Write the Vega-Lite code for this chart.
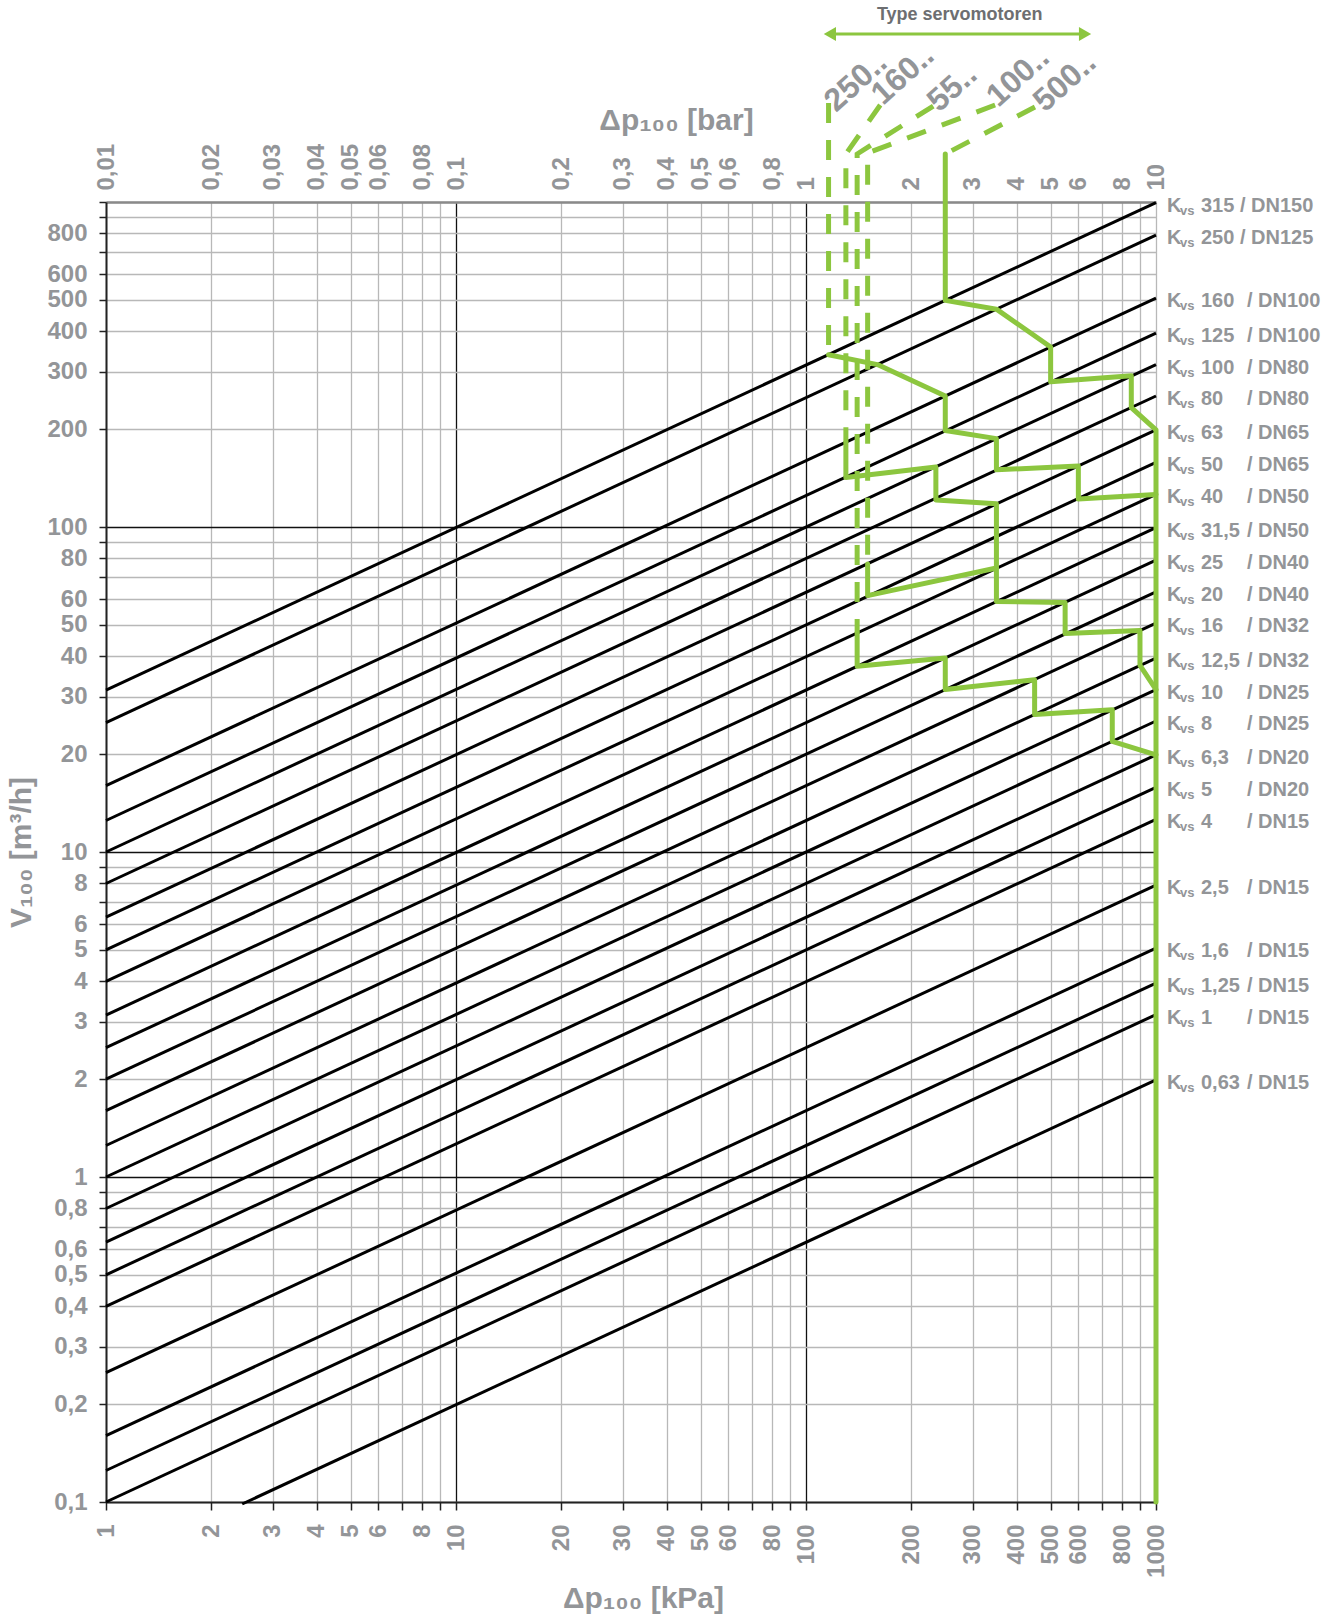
{
  "$schema": "https://vega.github.io/schema/vega-lite/v6.json",
  "width": 1050,
  "height": 1300,
  "autosize": {"type": "none"},
  "padding": {"left": 106, "top": 202, "right": 183, "bottom": 118},
  "background": "white",
  "config": {
    "view": {"stroke": null},
    "locale": {"number": {"decimal": ",", "thousands": "", "grouping": [3], "currency": ["", ""]}},
    "axis": {
      "labelFont": "Liberation Sans",
      "labelFontWeight": "bold",
      "labelFontSize": 24,
      "labelColor": "#939598",
      "titleFont": "Liberation Sans",
      "titleFontWeight": "bold",
      "titleFontSize": 30,
      "titleColor": "#939598",
      "labelOverlap": false,
      "labelBound": false,
      "labelFlush": false
    }
  },
  "datasets": {
    "kvs": [
      {"kvs": 315, "dp0": 1, "v0": 31.5, "dp1": 1000, "v1": 996, "num": "315 / DN150", "dn": ""},
      {"kvs": 250, "dp0": 1, "v0": 25, "dp1": 1000, "v1": 791, "num": "250 / DN125", "dn": ""},
      {"kvs": 160, "dp0": 1, "v0": 16, "dp1": 1000, "v1": 506, "num": "160", "dn": "/ DN100"},
      {"kvs": 125, "dp0": 1, "v0": 12.5, "dp1": 1000, "v1": 395, "num": "125", "dn": "/ DN100"},
      {"kvs": 100, "dp0": 1, "v0": 10, "dp1": 1000, "v1": 316, "num": "100", "dn": "/ DN80"},
      {"kvs": 80, "dp0": 1, "v0": 8, "dp1": 1000, "v1": 253, "num": "80", "dn": "/ DN80"},
      {"kvs": 63, "dp0": 1, "v0": 6.3, "dp1": 1000, "v1": 199, "num": "63", "dn": "/ DN65"},
      {"kvs": 50, "dp0": 1, "v0": 5, "dp1": 1000, "v1": 158, "num": "50", "dn": "/ DN65"},
      {"kvs": 40, "dp0": 1, "v0": 4, "dp1": 1000, "v1": 126, "num": "40", "dn": "/ DN50"},
      {"kvs": 31.5, "dp0": 1, "v0": 3.15, "dp1": 1000, "v1": 99.6, "num": "31,5", "dn": "/ DN50"},
      {"kvs": 25, "dp0": 1, "v0": 2.5, "dp1": 1000, "v1": 79.1, "num": "25", "dn": "/ DN40"},
      {"kvs": 20, "dp0": 1, "v0": 2, "dp1": 1000, "v1": 63.2, "num": "20", "dn": "/ DN40"},
      {"kvs": 16, "dp0": 1, "v0": 1.6, "dp1": 1000, "v1": 50.6, "num": "16", "dn": "/ DN32"},
      {"kvs": 12.5, "dp0": 1, "v0": 1.25, "dp1": 1000, "v1": 39.5, "num": "12,5", "dn": "/ DN32"},
      {"kvs": 10, "dp0": 1, "v0": 1, "dp1": 1000, "v1": 31.6, "num": "10", "dn": "/ DN25"},
      {"kvs": 8, "dp0": 1, "v0": 0.8, "dp1": 1000, "v1": 25.3, "num": "8", "dn": "/ DN25"},
      {"kvs": 6.3, "dp0": 1, "v0": 0.63, "dp1": 1000, "v1": 19.9, "num": "6,3", "dn": "/ DN20"},
      {"kvs": 5, "dp0": 1, "v0": 0.5, "dp1": 1000, "v1": 15.8, "num": "5", "dn": "/ DN20"},
      {"kvs": 4, "dp0": 1, "v0": 0.4, "dp1": 1000, "v1": 12.6, "num": "4", "dn": "/ DN15"},
      {"kvs": 2.5, "dp0": 1, "v0": 0.25, "dp1": 1000, "v1": 7.91, "num": "2,5", "dn": "/ DN15"},
      {"kvs": 1.6, "dp0": 1, "v0": 0.16, "dp1": 1000, "v1": 5.06, "num": "1,6", "dn": "/ DN15"},
      {"kvs": 1.25, "dp0": 1, "v0": 0.125, "dp1": 1000, "v1": 3.95, "num": "1,25", "dn": "/ DN15"},
      {"kvs": 1, "dp0": 1, "v0": 0.1, "dp1": 1000, "v1": 3.16, "num": "1", "dn": "/ DN15"},
      {"kvs": 0.63, "dp0": 2.45, "v0": 0.0986, "dp1": 1000, "v1": 1.99, "num": "0,63", "dn": "/ DN15"}
    ],
    "green_dashed": [
      {"path": "250", "seq": 1, "dp": 116, "v": 2016},
      {"path": "250", "seq": 2, "dp": 116, "v": 339},
      {"path": "160", "seq": 1, "dp": 163, "v": 1988},
      {"path": "160", "seq": 2, "dp": 130, "v": 1405},
      {"path": "160", "seq": 3, "dp": 130, "v": 182},
      {"path": "55", "seq": 1, "dp": 231, "v": 1974},
      {"path": "55", "seq": 2, "dp": 140, "v": 1405},
      {"path": "55", "seq": 3, "dp": 140, "v": 47.3},
      {"path": "100", "seq": 1, "dp": 347, "v": 1988},
      {"path": "100", "seq": 2, "dp": 150, "v": 1415},
      {"path": "100", "seq": 3, "dp": 150, "v": 77},
      {"path": "500", "seq": 1, "dp": 451, "v": 1960},
      {"path": "500", "seq": 2, "dp": 250, "v": 1405}
    ],
    "green_solid": [
      {"path": "500", "seq": 1, "dp": 250, "v": 1405},
      {"path": "500", "seq": 2, "dp": 250, "v": 498},
      {"path": "500", "seq": 3, "dp": 350, "v": 468},
      {"path": "500", "seq": 4, "dp": 500, "v": 358},
      {"path": "500", "seq": 5, "dp": 500, "v": 280},
      {"path": "500", "seq": 6, "dp": 850, "v": 292},
      {"path": "500", "seq": 7, "dp": 850, "v": 233},
      {"path": "500", "seq": 8, "dp": 1000, "v": 199},
      {"path": "500", "seq": 9, "dp": 1000, "v": 0.1},
      {"path": "250", "seq": 1, "dp": 116, "v": 339},
      {"path": "250", "seq": 2, "dp": 160, "v": 316},
      {"path": "250", "seq": 3, "dp": 250, "v": 253},
      {"path": "250", "seq": 4, "dp": 250, "v": 198},
      {"path": "250", "seq": 5, "dp": 350, "v": 187},
      {"path": "250", "seq": 6, "dp": 350, "v": 150},
      {"path": "250", "seq": 7, "dp": 600, "v": 154},
      {"path": "250", "seq": 8, "dp": 600, "v": 122},
      {"path": "250", "seq": 9, "dp": 1000, "v": 126},
      {"path": "160", "seq": 1, "dp": 130, "v": 182},
      {"path": "160", "seq": 2, "dp": 130, "v": 142},
      {"path": "160", "seq": 3, "dp": 235, "v": 153},
      {"path": "160", "seq": 4, "dp": 235, "v": 121},
      {"path": "160", "seq": 5, "dp": 350, "v": 118},
      {"path": "160", "seq": 6, "dp": 350, "v": 59},
      {"path": "160", "seq": 7, "dp": 550, "v": 58.6},
      {"path": "160", "seq": 8, "dp": 550, "v": 47},
      {"path": "160", "seq": 9, "dp": 900, "v": 48},
      {"path": "160", "seq": 10, "dp": 900, "v": 37.5},
      {"path": "160", "seq": 11, "dp": 1000, "v": 31.6},
      {"path": "100", "seq": 1, "dp": 150, "v": 77},
      {"path": "100", "seq": 2, "dp": 150, "v": 61.5},
      {"path": "100", "seq": 3, "dp": 350, "v": 74.8},
      {"path": "55", "seq": 1, "dp": 140, "v": 47.3},
      {"path": "55", "seq": 2, "dp": 140, "v": 37.3},
      {"path": "55", "seq": 3, "dp": 250, "v": 39.5},
      {"path": "55", "seq": 4, "dp": 250, "v": 31.6},
      {"path": "55", "seq": 5, "dp": 450, "v": 33.9},
      {"path": "55", "seq": 6, "dp": 450, "v": 26.5},
      {"path": "55", "seq": 7, "dp": 750, "v": 27.4},
      {"path": "55", "seq": 8, "dp": 750, "v": 21.9},
      {"path": "55", "seq": 9, "dp": 1000, "v": 19.9}
    ],
    "servo": [
      {"label": "250..", "dp": 121.8, "v": 1878},
      {"label": "160..", "dp": 166, "v": 1974},
      {"label": "55..", "dp": 240, "v": 1878},
      {"label": "100..", "dp": 354, "v": 1946},
      {"label": "500..", "dp": 482, "v": 1878}
    ],
    "arrow": [
      {"dp1": 117, "dp2": 627, "v": 3288}
    ],
    "arrowheads": [
      {"side": "left", "dp": 117, "v": 3288},
      {"side": "right", "dp": 627, "v": 3288}
    ],
    "header": [
      {"t": "Type servomotoren", "dp": 275, "v": 3761}
    ]
  },
  "layer": [
    {
      "data": {"name": "kvs"},
      "mark": {"type": "rule", "color": "#000000", "strokeWidth": 3},
      "encoding": {
        "x": {
          "field": "dp0", "type": "quantitative",
          "scale": {"type": "log", "domain": [1, 1000], "nice": false},
          "axis": {
            "orient": "bottom",
            "values": [1, 2, 3, 4, 5, 6, 7, 8, 9, 10, 20, 30, 40, 50, 60, 70, 80, 90, 100, 200, 300, 400, 500, 600, 700, 800, 900, 1000],
            "format": "d",
            "labelExpr": "test(regexp('^[79]0*$'), datum.label) ? '' : datum.label",
            "labelAngle": -90,
            "labelAlign": "right",
            "labelBaseline": "middle",
            "labelPadding": 14,
            "tickSize": 8,
            "tickColor": "#222222",
            "tickWidth": 1.5,
            "domainColor": "#222222",
            "domainWidth": 2,
            "grid": true,
            "gridColor": {"condition": {"test": "datum.value == 10 || datum.value == 100", "value": "#111111"}, "value": "#b8b8b8"},
            "gridWidth": 1.3,
            "title": "Δp₁₀₀ [kPa]",
            "titlePadding": 6,
            "titleX": 537
          }
        },
        "y": {
          "field": "v0", "type": "quantitative",
          "scale": {"type": "log", "domain": [0.1, 1000], "nice": false},
          "axis": {
            "orient": "left",
            "values": [0.1, 0.2, 0.3, 0.4, 0.5, 0.6, 0.7, 0.8, 0.9, 1, 2, 3, 4, 5, 6, 7, 8, 9, 10, 20, 30, 40, 50, 60, 70, 80, 90, 100, 200, 300, 400, 500, 600, 700, 800, 900, 1000],
            "labelExpr": "indexof([0.7, 0.9, 7, 9, 70, 90, 700, 900, 1000], datum.value) >= 0 ? '' : replace(format(datum.value, '~g'), '.', ',')",
            "labelPadding": 12,
            "tickSize": 7,
            "tickColor": "#222222",
            "tickWidth": 1.5,
            "domainColor": "#222222",
            "domainWidth": 2,
            "grid": true,
            "gridColor": {"condition": {"test": "datum.value == 1 || datum.value == 10 || datum.value == 100", "value": "#111111"}, "value": "#b8b8b8"},
            "gridWidth": 1.3,
            "title": "V₁₀₀ [m³/h]",
            "titlePadding": 10
          }
        },
        "x2": {"field": "dp1"},
        "y2": {"field": "v1"}
      }
    },
    {
      "data": {"name": "green_dashed"},
      "mark": {"type": "line", "color": "#8cc63f", "strokeWidth": 5, "strokeDash": [20, 17], "strokeCap": "butt"},
      "encoding": {
        "x": {"field": "dp", "type": "quantitative", "axis": null},
        "y": {"field": "v", "type": "quantitative", "axis": null},
        "detail": {"field": "path"},
        "order": {"field": "seq"}
      }
    },
    {
      "data": {"name": "green_solid"},
      "mark": {"type": "line", "color": "#8cc63f", "strokeWidth": 5, "strokeCap": "round", "strokeJoin": "round"},
      "encoding": {
        "x": {"field": "dp", "type": "quantitative", "axis": null},
        "y": {"field": "v", "type": "quantitative", "axis": null},
        "detail": {"field": "path"},
        "order": {"field": "seq"}
      }
    },
    {
      "data": {"name": "kvs"},
      "mark": {"type": "text", "align": "left", "baseline": "alphabetic", "dx": 11, "dy": 9, "font": "Liberation Sans", "fontWeight": "bold", "fontSize": 20, "color": "#939598"},
      "encoding": {
        "x": {"field": "dp1", "type": "quantitative", "axis": null},
        "y": {"field": "v1", "type": "quantitative", "axis": null},
        "text": {"value": "K"}
      }
    },
    {
      "data": {"name": "kvs"},
      "mark": {"type": "text", "align": "left", "baseline": "alphabetic", "dx": 24, "dy": 12, "font": "Liberation Sans", "fontWeight": "bold", "fontSize": 13, "color": "#939598"},
      "encoding": {
        "x": {"field": "dp1", "type": "quantitative", "axis": null},
        "y": {"field": "v1", "type": "quantitative", "axis": null},
        "text": {"value": "vs"}
      }
    },
    {
      "data": {"name": "kvs"},
      "mark": {"type": "text", "align": "left", "baseline": "alphabetic", "dx": 45, "dy": 9, "font": "Liberation Sans", "fontWeight": "bold", "fontSize": 20, "color": "#939598"},
      "encoding": {
        "x": {"field": "dp1", "type": "quantitative", "axis": null},
        "y": {"field": "v1", "type": "quantitative", "axis": null},
        "text": {"field": "num"}
      }
    },
    {
      "data": {"name": "kvs"},
      "mark": {"type": "text", "align": "left", "baseline": "alphabetic", "dx": 91, "dy": 9, "font": "Liberation Sans", "fontWeight": "bold", "fontSize": 20, "color": "#939598"},
      "encoding": {
        "x": {"field": "dp1", "type": "quantitative", "axis": null},
        "y": {"field": "v1", "type": "quantitative", "axis": null},
        "text": {"field": "dn"}
      }
    },
    {
      "data": {"name": "servo"},
      "mark": {"type": "text", "align": "left", "baseline": "alphabetic", "angle": 318, "font": "Liberation Sans", "fontWeight": "bold", "fontSize": 32, "color": "#939598"},
      "encoding": {
        "x": {
          "field": "dp", "type": "quantitative",
          "axis": {
            "orient": "top",
            "values": [1, 2, 3, 4, 5, 6, 7, 8, 9, 10, 20, 30, 40, 50, 60, 70, 80, 90, 100, 200, 300, 400, 500, 600, 700, 800, 900, 1000],
            "labelExpr": "test(regexp('^[79]0*$'), format(datum.value, 'd')) ? '' : replace(format(datum.value / 100, '~g'), '.', ',')",
            "labelAngle": -90,
            "labelAlign": "left",
            "labelBaseline": "middle",
            "labelPadding": 12,
            "tickSize": 0,
            "domainColor": "#8a8a8a",
            "domainWidth": 2.5,
            "grid": false,
            "title": "Δp₁₀₀ [bar]",
            "titleX": 570,
            "titlePadding": 8
          }
        },
        "y": {"field": "v", "type": "quantitative", "axis": null},
        "text": {"field": "label"}
      }
    },
    {
      "data": {"name": "arrow"},
      "mark": {"type": "rule", "color": "#8cc63f", "strokeWidth": 3},
      "encoding": {
        "x": {"field": "dp1", "type": "quantitative", "axis": null},
        "x2": {"field": "dp2"},
        "y": {"field": "v", "type": "quantitative", "axis": null}
      }
    },
    {
      "data": {"name": "arrowheads"},
      "mark": {"type": "point", "filled": true, "color": "#8cc63f", "opacity": 1, "size": 200},
      "encoding": {
        "x": {"field": "dp", "type": "quantitative", "axis": null},
        "y": {"field": "v", "type": "quantitative", "axis": null},
        "shape": {"field": "side", "type": "nominal", "scale": {"domain": ["left", "right"], "range": ["triangle-left", "triangle-right"]}, "legend": null}
      }
    },
    {
      "data": {"name": "header"},
      "mark": {"type": "text", "align": "center", "baseline": "middle", "font": "Liberation Sans Narrow, Liberation Sans", "fontWeight": "bold", "fontSize": 18, "color": "#6d6e71"},
      "encoding": {
        "x": {"field": "dp", "type": "quantitative", "axis": null},
        "y": {"field": "v", "type": "quantitative", "axis": null},
        "text": {"field": "t"}
      }
    }
  ],
  "resolve": {"axis": {"x": "independent", "y": "independent"}}
}
